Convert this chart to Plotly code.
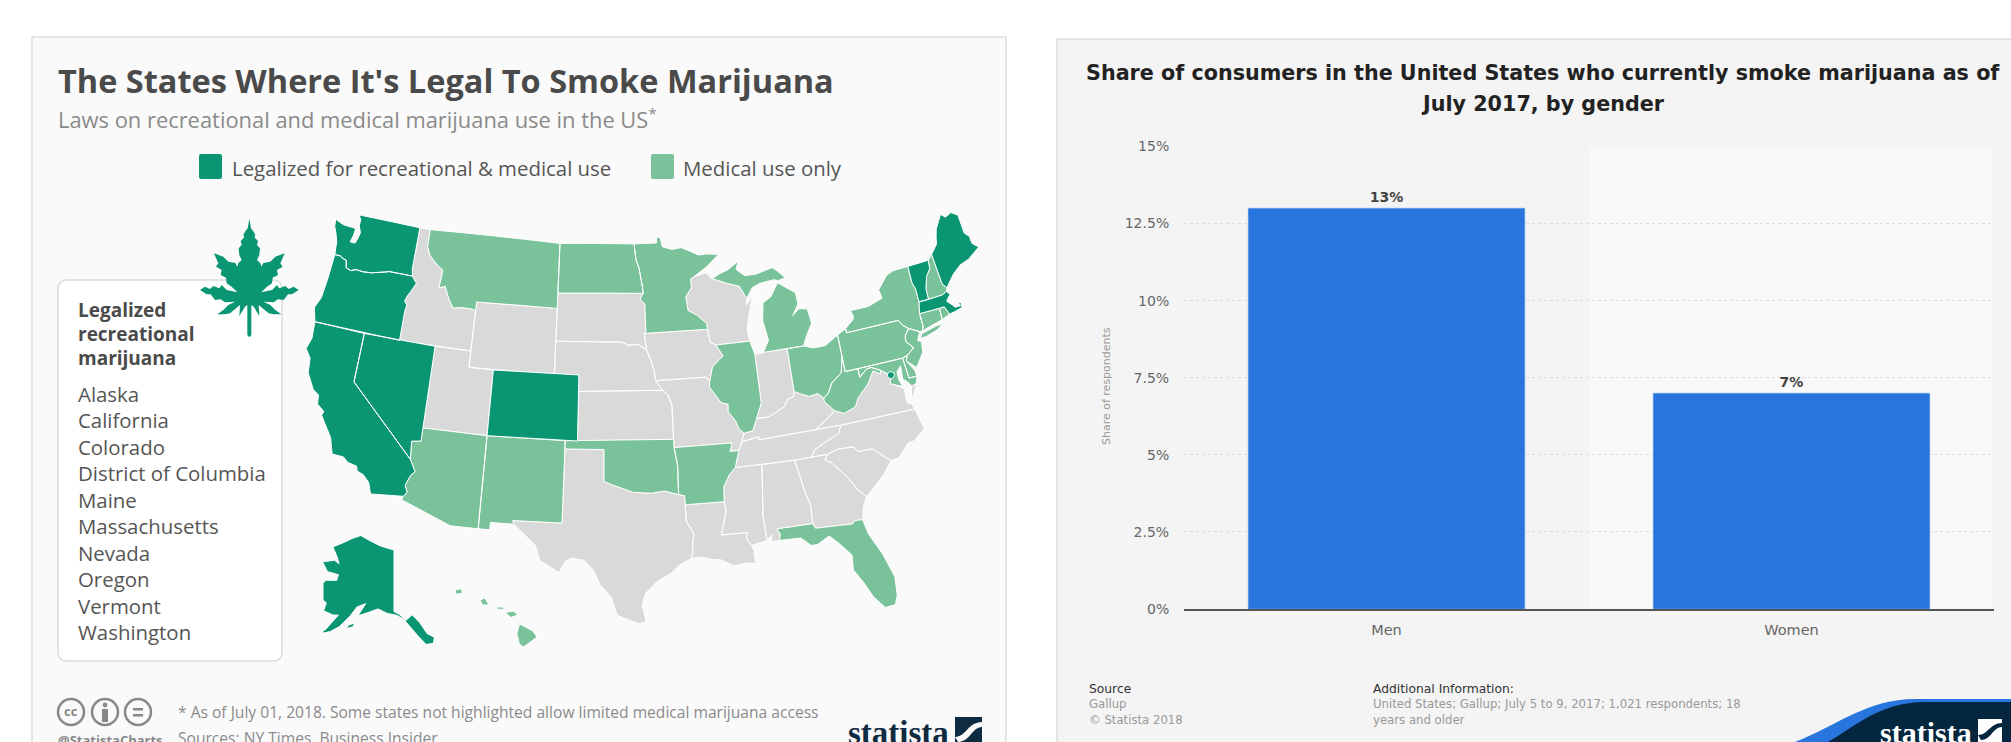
import plotly.graph_objects as go

PAGE_W, PAGE_H = 2011, 742

# State outlines as (longitude, latitude) vertices
WA = [(-124.73, 48.38), (-123.9, 48.17), (-123.1, 48.15), (-122.75, 48.12), (-122.8, 47.7), (-122.95, 47.25),
      (-122.5, 47.25), (-122.35, 47.6), (-122.25, 47.95), (-122.5, 48.35), (-122.5, 48.75), (-122.76, 49.0),
      (-117.03, 49.0), (-117.04, 46.42), (-116.92, 45.995), (-118.98, 46.0), (-119.3, 45.93), (-120.5, 45.7),
      (-121.2, 45.65), (-121.9, 45.68), (-122.3, 45.55), (-122.75, 45.65), (-122.9, 46.1), (-123.2, 46.15),
      (-123.5, 46.27), (-124.0, 46.27), (-124.07, 46.7), (-124.1, 47.0), (-124.35, 47.5), (-124.65, 47.95)]
OR = [(-124.0, 46.27), (-123.5, 46.27), (-123.2, 46.15), (-122.9, 46.1), (-122.75, 45.65), (-122.3, 45.55),
      (-121.9, 45.68), (-121.2, 45.65), (-120.5, 45.7), (-119.3, 45.93), (-118.98, 46.0), (-116.92, 45.995),
      (-116.47, 45.6), (-116.85, 45.0), (-117.05, 44.75), (-117.2, 44.4), (-116.95, 44.2), (-117.03, 43.8),
      (-117.03, 42.0), (-124.21, 42.0), (-124.55, 42.84), (-124.2, 43.5), (-124.07, 44.7)]
CA = [(-124.21, 42.0), (-120.0, 42.0), (-120.0, 39.0), (-114.63, 35.0), (-114.14, 34.3), (-114.43, 34.05),
      (-114.72, 33.4), (-114.5, 33.0), (-114.72, 32.72), (-117.12, 32.53), (-117.25, 32.85), (-117.4, 33.2),
      (-117.9, 33.6), (-118.4, 33.75), (-118.5, 34.03), (-119.2, 34.15), (-119.6, 34.42), (-120.47, 34.45),
      (-120.65, 34.9), (-120.85, 35.4), (-121.9, 36.6), (-121.8, 36.85), (-122.4, 37.2), (-122.5, 37.75),
      (-123.0, 38.0), (-123.7, 38.9), (-123.85, 39.8), (-124.35, 40.3), (-124.1, 41.0)]
NV = [(-120.0, 42.0), (-114.04, 42.0), (-114.04, 36.2), (-114.75, 36.1), (-114.63, 35.0), (-120.0, 39.0)]
ID = [(-117.03, 49.0), (-116.05, 49.0), (-116.05, 47.97), (-115.72, 47.45), (-114.95, 46.93), (-114.35, 46.65),
      (-114.45, 45.55), (-113.95, 45.7), (-113.45, 44.95), (-113.0, 44.45), (-112.3, 44.55), (-111.5, 44.55),
      (-111.05, 44.48), (-111.05, 42.0), (-117.03, 42.0), (-117.03, 43.8), (-116.95, 44.2), (-117.2, 44.4),
      (-117.05, 44.75), (-116.85, 45.0), (-116.47, 45.6), (-116.92, 45.995), (-117.04, 46.42)]
MT = [(-116.05, 49.0), (-104.05, 49.0), (-104.05, 45.0), (-111.05, 45.0), (-111.05, 44.48), (-111.5, 44.55),
      (-112.3, 44.55), (-113.0, 44.45), (-113.45, 44.95), (-113.95, 45.7), (-114.45, 45.55), (-114.35, 46.65),
      (-114.95, 46.93), (-115.72, 47.45), (-116.05, 47.97)]
WY = [(-111.05, 45.0), (-104.05, 45.0), (-104.05, 41.0), (-111.05, 41.0)]
UT = [(-114.04, 42.0), (-111.05, 42.0), (-111.05, 41.0), (-109.05, 41.0), (-109.05, 37.0), (-114.05, 37.0)]
CO = [(-109.05, 41.0), (-102.05, 41.0), (-102.05, 37.0), (-109.05, 37.0)]
AZ = [(-114.05, 37.0), (-109.05, 37.0), (-109.05, 31.33), (-111.07, 31.33), (-114.81, 32.5), (-114.72, 32.72),
      (-114.5, 33.0), (-114.72, 33.4), (-114.43, 34.05), (-114.14, 34.3), (-114.63, 35.0), (-114.75, 36.1),
      (-114.04, 36.2)]
NM = [(-109.05, 37.0), (-103.0, 37.0), (-103.04, 32.0), (-106.62, 32.0), (-106.53, 31.78), (-108.21, 31.78),
      (-108.21, 31.33), (-109.05, 31.33)]
TX = [(-103.0, 36.5), (-100.0, 36.5), (-100.0, 34.56), (-99.5, 34.4), (-99.2, 34.3), (-98.5, 34.1), (-97.9, 33.9),
      (-97.2, 33.85), (-96.5, 33.8), (-95.5, 33.9), (-94.48, 33.64), (-94.04, 33.55), (-94.04, 33.0), (-94.04, 31.99),
      (-93.55, 31.2), (-93.7, 30.5), (-93.7, 30.1), (-93.85, 29.7), (-94.7, 29.35), (-95.3, 28.9), (-96.4, 28.35),
      (-97.15, 27.7), (-97.4, 27.0), (-97.15, 25.97), (-97.6, 25.85), (-98.2, 26.05), (-99.1, 26.4), (-99.5, 27.5),
      (-100.3, 28.3), (-100.7, 29.1), (-101.4, 29.77), (-102.3, 29.88), (-102.7, 29.7), (-103.15, 28.98),
      (-104.5, 29.65), (-104.9, 30.6), (-106.53, 31.78), (-106.62, 32.0), (-103.04, 32.0)]
OK = [(-103.0, 37.0), (-94.62, 37.0), (-94.62, 36.5), (-94.43, 35.4), (-94.48, 33.64), (-95.5, 33.9), (-96.5, 33.8),
      (-97.2, 33.85), (-97.9, 33.9), (-98.5, 34.1), (-99.2, 34.3), (-99.5, 34.4), (-100.0, 34.56), (-100.0, 36.5),
      (-103.0, 36.5)]
KS = [(-102.05, 40.0), (-95.3, 40.0), (-94.9, 39.75), (-94.6, 39.1), (-94.62, 37.0), (-102.05, 37.0)]
NE = [(-104.05, 43.0), (-98.5, 43.0), (-97.9, 42.8), (-97.2, 42.85), (-96.45, 42.49), (-96.1, 41.8), (-95.9, 41.2),
      (-95.8, 40.6), (-95.3, 40.0), (-102.05, 40.0), (-102.05, 41.0), (-104.05, 41.0)]
SD = [(-104.05, 45.94), (-96.56, 45.94), (-96.85, 45.6), (-96.45, 45.3), (-96.45, 43.5), (-96.6, 43.5), (-96.45, 42.49),
      (-97.2, 42.85), (-97.9, 42.8), (-98.5, 43.0), (-104.05, 43.0)]
ND = [(-104.05, 49.0), (-97.23, 49.0), (-97.1, 48.0), (-96.85, 47.5), (-96.6, 46.3), (-96.56, 45.94), (-104.05, 45.94)]
MN = [(-97.23, 49.0), (-95.15, 49.0), (-95.15, 49.38), (-94.8, 49.3), (-94.65, 48.75), (-93.8, 48.55), (-92.95, 48.62),
      (-92.0, 48.3), (-91.4, 48.07), (-90.75, 48.1), (-89.6, 48.0), (-90.8, 47.3), (-92.05, 46.75), (-92.3, 46.65),
      (-92.3, 46.1), (-92.85, 45.6), (-92.75, 44.75), (-92.0, 44.4), (-91.25, 43.85), (-91.22, 43.5), (-96.45, 43.5),
      (-96.45, 45.3), (-96.85, 45.6), (-96.56, 45.94), (-96.6, 46.3), (-96.85, 47.5), (-97.1, 48.0)]
IA = [(-96.6, 43.5), (-91.22, 43.5), (-91.1, 42.7), (-90.65, 42.5), (-90.15, 41.8), (-91.1, 41.2), (-91.42, 40.38),
      (-91.73, 40.61), (-95.8, 40.6), (-95.9, 41.2), (-96.1, 41.8), (-96.45, 42.49)]
MO = [(-95.8, 40.6), (-91.73, 40.61), (-91.42, 40.38), (-91.5, 40.0), (-90.7, 39.0), (-90.15, 38.85), (-90.2, 38.4),
      (-89.7, 37.8), (-89.5, 37.3), (-89.15, 37.0), (-89.4, 36.5), (-89.7, 36.0), (-90.37, 36.0), (-90.15, 36.5),
      (-94.62, 36.5), (-94.62, 37.0), (-94.6, 39.1), (-94.9, 39.75), (-95.3, 40.0)]
AR = [(-94.62, 36.5), (-90.15, 36.5), (-90.37, 36.0), (-89.7, 36.0), (-90.1, 35.0), (-90.6, 34.6), (-91.1, 33.9),
      (-91.17, 33.0), (-94.04, 33.0), (-94.04, 33.55), (-94.48, 33.64), (-94.43, 35.4)]
LA = [(-94.04, 33.0), (-91.17, 33.0), (-91.1, 32.4), (-91.6, 31.0), (-89.73, 31.0), (-89.85, 30.65), (-89.55, 30.18),
      (-89.4, 29.9), (-89.4, 29.2), (-89.2, 29.05), (-90.1, 29.15), (-90.9, 29.05), (-91.8, 29.5), (-92.3, 29.55),
      (-93.2, 29.77), (-93.85, 29.7), (-93.7, 30.1), (-93.7, 30.5), (-93.55, 31.2), (-94.04, 31.99)]
MS = [(-90.1, 35.0), (-88.2, 35.0), (-88.1, 34.9), (-88.47, 31.9), (-88.4, 30.37), (-89.55, 30.18), (-89.85, 30.65),
      (-89.73, 31.0), (-91.6, 31.0), (-91.1, 32.4), (-91.17, 33.0), (-91.1, 33.9), (-90.6, 34.6)]
AL = [(-88.2, 35.0), (-85.6, 34.98), (-85.18, 32.87), (-84.96, 32.2), (-85.0, 31.0), (-87.6, 31.0), (-87.4, 30.67),
      (-87.52, 30.28), (-88.1, 30.25), (-88.0, 30.7), (-88.4, 30.37), (-88.47, 31.9), (-88.1, 34.9)]
GA = [(-85.6, 34.98), (-83.1, 35.0), (-83.35, 34.7), (-82.9, 34.45), (-82.0, 33.5), (-81.4, 32.6), (-80.85, 32.03),
      (-81.2, 31.5), (-81.45, 30.7), (-82.0, 30.75), (-82.2, 30.57), (-84.86, 30.7), (-85.0, 31.0), (-84.96, 32.2),
      (-85.18, 32.87)]
FL = [(-87.6, 31.0), (-85.0, 31.0), (-84.86, 30.7), (-82.2, 30.57), (-82.0, 30.75), (-81.45, 30.7), (-81.25, 29.8),
      (-80.55, 28.4), (-80.05, 26.9), (-80.15, 25.75), (-80.4, 25.2), (-81.1, 25.15), (-81.75, 25.95), (-82.2, 26.9),
      (-82.75, 27.8), (-82.65, 28.7), (-83.4, 29.55), (-84.0, 30.1), (-84.9, 29.7), (-85.35, 29.7), (-86.0, 30.25),
      (-87.52, 30.28), (-87.4, 30.67)]
SC = [(-83.1, 35.0), (-82.3, 35.2), (-81.05, 35.15), (-80.8, 34.82), (-79.7, 34.8), (-78.55, 33.86), (-79.2, 33.2),
      (-79.9, 32.7), (-80.85, 32.03), (-81.4, 32.6), (-82.0, 33.5), (-82.9, 34.45), (-83.35, 34.7)]
NC = [(-84.32, 35.0), (-83.1, 35.0), (-82.3, 35.2), (-81.05, 35.15), (-80.8, 34.82), (-79.7, 34.8), (-78.55, 33.86),
      (-77.9, 33.93), (-77.0, 34.65), (-76.5, 34.7), (-75.55, 35.25), (-75.87, 36.55), (-81.68, 36.59), (-82.0, 36.1),
      (-83.1, 35.75), (-84.0, 35.4)]
TN = [(-90.1, 35.0), (-88.2, 35.0), (-85.6, 34.98), (-84.32, 35.0), (-84.0, 35.4), (-83.1, 35.75), (-82.0, 36.1),
      (-81.68, 36.59), (-83.68, 36.6), (-88.07, 36.5), (-88.07, 36.68), (-89.4, 36.5), (-89.7, 36.0)]
KY = [(-89.4, 36.5), (-88.07, 36.68), (-88.07, 36.5), (-83.68, 36.6), (-82.3, 37.3), (-81.97, 37.54), (-82.6, 38.17),
      (-82.6, 38.4), (-83.0, 38.73), (-83.7, 38.65), (-84.25, 38.85), (-84.82, 39.1), (-84.9, 38.8), (-85.4, 38.7),
      (-85.8, 38.27), (-86.5, 38.0), (-87.1, 37.8), (-88.05, 37.8), (-88.45, 37.1), (-89.15, 37.0)]
WV = [(-82.6, 38.4), (-82.6, 38.17), (-81.97, 37.54), (-81.25, 37.25), (-80.3, 37.5), (-79.95, 38.0), (-79.3, 38.45),
      (-78.87, 38.77), (-78.35, 39.4), (-77.83, 39.13), (-77.72, 39.32), (-78.4, 39.62), (-78.8, 39.6), (-79.48, 39.2),
      (-79.48, 39.72), (-80.52, 39.72), (-80.52, 40.64), (-80.85, 39.7), (-81.75, 39.2), (-82.2, 38.6)]
VA = [(-83.68, 36.6), (-81.68, 36.59), (-75.87, 36.55), (-76.0, 36.9), (-76.3, 37.0), (-76.3, 37.55), (-76.25, 37.9),
      (-76.95, 38.3), (-77.25, 38.4), (-77.04, 38.79), (-77.12, 38.93), (-77.72, 39.32), (-77.83, 39.13), (-78.35, 39.4),
      (-78.87, 38.77), (-79.3, 38.45), (-79.95, 38.0), (-80.3, 37.5), (-81.25, 37.25), (-81.97, 37.54), (-82.3, 37.3)]
VA_SHORE = [(-75.95, 37.15), (-75.65, 37.95), (-75.25, 38.03), (-75.6, 37.5)]
MD = [(-79.48, 39.72), (-75.79, 39.72), (-75.7, 38.46), (-75.05, 38.45), (-75.25, 38.03), (-75.65, 37.95), (-75.85, 38.2),
      (-76.2, 38.5), (-76.1, 39.3), (-76.5, 39.0), (-76.5, 38.5), (-76.35, 38.05), (-76.95, 38.3), (-77.25, 38.4),
      (-77.04, 38.79), (-77.12, 38.93), (-77.72, 39.32), (-78.4, 39.62), (-78.8, 39.6), (-79.48, 39.2)]
DE = [(-75.79, 39.72), (-75.4, 39.8), (-75.55, 39.5), (-75.1, 38.8), (-75.05, 38.45), (-75.7, 38.46)]
PA = [(-80.52, 41.98), (-79.76, 42.27), (-79.76, 42.0), (-75.35, 42.0), (-75.05, 41.6), (-74.7, 41.36), (-75.13, 40.98),
      (-75.2, 40.65), (-74.72, 40.15), (-75.4, 39.8), (-75.79, 39.72), (-80.52, 39.72)]
NJ = [(-74.7, 41.36), (-73.9, 41.0), (-74.25, 40.5), (-73.97, 40.4), (-74.1, 39.75), (-74.9, 38.95), (-75.55, 39.5),
      (-75.4, 39.8), (-74.72, 40.15), (-75.2, 40.65), (-75.13, 40.98)]
NY = [(-79.76, 42.27), (-79.0, 42.7), (-78.9, 42.9), (-79.05, 43.27), (-77.5, 43.27), (-76.2, 43.55), (-76.3, 44.1),
      (-75.3, 44.85), (-74.7, 45.0), (-73.35, 45.01), (-73.4, 44.0), (-73.25, 43.55), (-73.27, 42.75), (-73.5, 42.05),
      (-73.5, 41.3), (-73.65, 41.0), (-73.9, 41.0), (-74.7, 41.36), (-75.05, 41.6), (-75.35, 42.0), (-79.76, 42.0)]
NY_LONG_ISLAND = [(-74.0, 40.6), (-73.75, 40.85), (-72.5, 41.05), (-71.9, 41.07), (-72.5, 40.8), (-73.5, 40.6)]
VT = [(-73.35, 45.01), (-71.5, 45.01), (-71.6, 44.5), (-72.05, 44.1), (-72.4, 43.4), (-72.46, 42.73), (-73.27, 42.75),
      (-73.25, 43.55), (-73.4, 44.0)]
NH = [(-71.5, 45.01), (-71.08, 45.3), (-70.98, 43.4), (-70.7, 43.07), (-70.82, 42.87), (-71.25, 42.74), (-72.46, 42.73),
      (-72.4, 43.4), (-72.05, 44.1), (-71.6, 44.5)]
ME = [(-71.08, 45.3), (-70.4, 45.8), (-70.25, 46.2), (-70.0, 46.7), (-69.23, 47.46), (-68.9, 47.2), (-68.3, 47.36),
      (-67.79, 47.07), (-67.78, 45.9), (-67.45, 45.6), (-67.45, 45.15), (-67.0, 44.8), (-68.2, 44.3), (-69.0, 44.15),
      (-69.8, 43.75), (-70.7, 43.07), (-70.98, 43.4)]
MA = [(-73.5, 42.05), (-73.27, 42.75), (-72.46, 42.73), (-71.25, 42.74), (-70.82, 42.87), (-70.6, 42.65), (-71.05, 42.3),
      (-70.65, 41.95), (-70.55, 41.8), (-70.05, 41.78), (-70.2, 42.07), (-69.95, 41.95), (-69.98, 41.65), (-70.65, 41.55),
      (-71.12, 41.5), (-71.38, 42.02), (-71.8, 42.02)]
RI = [(-71.8, 42.02), (-71.38, 42.02), (-71.12, 41.5), (-71.85, 41.32)]
CT = [(-73.5, 42.05), (-71.8, 42.02), (-71.85, 41.32), (-73.65, 41.0), (-73.5, 41.3)]
OH = [(-84.82, 41.72), (-83.45, 41.72), (-82.7, 41.5), (-81.7, 41.5), (-80.52, 41.98), (-80.52, 40.64), (-80.85, 39.7),
      (-81.75, 39.2), (-82.2, 38.6), (-82.6, 38.4), (-83.0, 38.73), (-83.7, 38.65), (-84.25, 38.85), (-84.82, 39.1)]
IN = [(-87.53, 41.7), (-87.1, 41.65), (-86.8, 41.72), (-84.82, 41.72), (-84.82, 39.1), (-84.9, 38.8), (-85.4, 38.7),
      (-85.8, 38.27), (-86.5, 38.0), (-87.1, 37.8), (-88.05, 37.8), (-87.53, 38.7), (-87.53, 39.35)]
IL = [(-90.65, 42.5), (-87.8, 42.5), (-87.53, 41.7), (-87.53, 39.35), (-87.53, 38.7), (-88.05, 37.8), (-88.45, 37.1),
      (-89.15, 37.0), (-89.5, 37.3), (-89.7, 37.8), (-90.2, 38.4), (-90.15, 38.85), (-90.7, 39.0), (-91.5, 40.0),
      (-91.42, 40.38), (-91.1, 41.2), (-90.15, 41.8)]
WI = [(-90.65, 42.5), (-87.8, 42.5), (-87.9, 43.2), (-87.55, 44.2), (-87.05, 45.25), (-87.7, 44.7), (-87.6, 45.1),
      (-88.1, 45.9), (-89.1, 46.15), (-90.4, 46.55), (-90.9, 46.95), (-92.05, 46.75), (-92.3, 46.65), (-92.3, 46.1),
      (-92.85, 45.6), (-92.75, 44.75), (-92.0, 44.4), (-91.25, 43.85), (-91.22, 43.5), (-91.1, 42.7)]
MI_LOWER = [(-86.8, 41.72), (-83.45, 41.72), (-83.1, 42.25), (-82.45, 43.0), (-82.6, 43.9), (-83.3, 44.0), (-83.9, 43.65),
            (-83.3, 44.3), (-83.35, 45.0), (-84.75, 45.78), (-85.5, 45.0), (-86.25, 44.7), (-86.5, 43.65), (-86.25, 42.4)]
MI_UPPER = [(-90.4, 46.55), (-89.1, 46.15), (-88.1, 45.9), (-87.6, 45.1), (-87.0, 45.7), (-86.3, 45.9), (-85.0, 46.0),
            (-84.7, 45.9), (-84.0, 46.0), (-84.6, 46.5), (-85.0, 46.75), (-86.5, 46.5), (-87.5, 46.5), (-88.2, 46.95),
            (-87.9, 47.45), (-88.9, 47.0), (-89.7, 46.8)]
AK = [(-141.0, 69.65), (-141.0, 60.3), (-139.5, 59.9), (-137.5, 58.9), (-135.5, 59.7), (-133.5, 58.4), (-131.8, 56.6),
      (-130.0, 55.9), (-130.5, 55.0), (-132.5, 55.0), (-134.5, 56.5), (-136.5, 58.0), (-138.0, 59.0), (-140.0, 59.7),
      (-143.0, 60.0), (-146.0, 60.6), (-148.5, 60.0), (-151.8, 59.2), (-150.0, 61.2), (-152.5, 60.5), (-154.0, 59.0),
      (-156.5, 57.0), (-158.5, 56.0), (-161.0, 55.2), (-164.5, 54.6), (-162.5, 55.5), (-160.0, 56.0), (-157.5, 58.7),
      (-159.0, 58.5), (-162.0, 58.7), (-162.0, 60.0), (-165.3, 60.5), (-166.0, 61.6), (-165.0, 62.6), (-164.5, 63.2),
      (-161.0, 63.7), (-161.0, 64.6), (-165.0, 64.5), (-168.0, 65.6), (-164.0, 66.5), (-162.0, 66.2), (-163.5, 67.1),
      (-166.5, 68.3), (-163.0, 69.5), (-160.0, 70.5), (-156.5, 71.3), (-152.0, 70.8), (-147.0, 70.2)]
AK_KODIAK = [(-154.3, 57.0), (-152.5, 57.5), (-152.5, 58.0), (-154.0, 57.6)]
HI_BIG = [(-155.9, 20.25), (-155.1, 19.85), (-154.85, 19.5), (-155.65, 18.95), (-155.9, 19.1), (-156.05, 19.7)]
HI_MAUI = [(-156.7, 20.9), (-156.25, 20.95), (-156.0, 20.75), (-156.4, 20.6), (-156.65, 20.8)]
HI_MOLOKAI = [(-157.25, 21.2), (-156.75, 21.17), (-156.9, 21.05), (-157.25, 21.08)]
HI_OAHU = [(-158.25, 21.55), (-158.0, 21.7), (-157.7, 21.3), (-158.1, 21.3)]
HI_KAUAI = [(-159.75, 22.15), (-159.35, 22.2), (-159.3, 21.95), (-159.7, 21.9)]

recreational_outlines = [CA, CO, ME, MA, NV, OR, VT, WA]
medical_outlines = [AZ, AR, CT, DE, FL, IL, MD, MI_LOWER, MI_UPPER, MN, MT, NH, NJ, NM, NY, NY_LONG_ISLAND, ND, OH, OK,
                    PA, RI, WV]
no_law_outlines = [AL, GA, ID, IN, IA, KS, KY, LA, MS, MO, NE, NC, SC, SD, TN, TX, UT, VA, VA_SHORE, WI, WY]
alaska_outlines = [AK, AK_KODIAK]
hawaii_outlines = [HI_BIG, HI_MAUI, HI_MOLOKAI, HI_OAHU, HI_KAUAI]
dc_lon, dc_lat = [-77.03], [38.9]

recreational_names = ["Alaska", "California", "Colorado", "District of Columbia", "Maine",
                      "Massachusetts", "Nevada", "Oregon", "Vermont", "Washington"]

# Bar chart data
genders = ["Men", "Women"]
smoker_share = [13, 7]
share_ticks = [0, 2.5, 5, 7.5, 10, 12.5, 15]
share_tick_labels = ["0%", "2.5%", "5%", "7.5%", "10%", "12.5%", "15%"]

GREEN_DARK = "#0a9673"
GREEN_LIGHT = "#7ac29a"
GREY_STATE = "#d9d9d9"
NAVY = "#0f2b42"
BADGE = "#04263f"
BLUE = "#2875de"
SANS = "Open Sans"
DEJAVU = "DejaVu Sans"


def px(x):
    return x / PAGE_W


def py(y):
    return 1 - y / PAGE_H


def pts_path(points):
    return "M " + " L ".join(f"{px(x):.5f} {py(y):.5f}" for x, y in points) + " Z"


def rect(x0, y0, x1, y1, fill, line=None, width=0, layer="below"):
    return dict(type="rect", xref="paper", yref="paper", x0=px(x0), x1=px(x1), y0=py(y0), y1=py(y1),
                fillcolor=fill, line=dict(color=line or "rgba(0,0,0,0)", width=width), layer=layer)


def path_shape(path, fill="rgba(0,0,0,0)", line=None, width=0, layer="above"):
    return dict(type="path", xref="paper", yref="paper", path=path, fillcolor=fill,
                line=dict(color=line or "rgba(0,0,0,0)", width=width), layer=layer)


def circle(cx, cy, r, fill="rgba(0,0,0,0)", line=None, width=0):
    return dict(type="circle", xref="paper", yref="paper", x0=px(cx - r), x1=px(cx + r),
                y0=py(cy + r), y1=py(cy - r), fillcolor=fill,
                line=dict(color=line or "rgba(0,0,0,0)", width=width), layer="above")


def label(x, y, text, size, color, family=SANS, anchor="left", **kw):
    # Annotations carry a small inner pad; compensate so `x` is the glyph edge.
    nudge = -2.5 if anchor == "left" else 0
    return dict(xref="paper", yref="paper", x=px(x + nudge), y=py(y), text=text, showarrow=False,
                xanchor=anchor, yanchor="middle", align=anchor,
                font=dict(size=size, color=color, family=family), **kw)


def rounded_box(x0, y0, x1, y1, r):
    return (f"M {px(x0 + r):.5f} {py(y0):.5f} L {px(x1 - r):.5f} {py(y0):.5f} "
            f"Q {px(x1):.5f} {py(y0):.5f} {px(x1):.5f} {py(y0 + r):.5f} "
            f"L {px(x1):.5f} {py(y1 - r):.5f} Q {px(x1):.5f} {py(y1):.5f} {px(x1 - r):.5f} {py(y1):.5f} "
            f"L {px(x0 + r):.5f} {py(y1):.5f} Q {px(x0):.5f} {py(y1):.5f} {px(x0):.5f} {py(y1 - r):.5f} "
            f"L {px(x0):.5f} {py(y0 + r):.5f} Q {px(x0):.5f} {py(y0):.5f} {px(x0 + r):.5f} {py(y0):.5f} Z")


def ring_lonlat(rings):
    """Join rings into one lon/lat series, each wound clockwise so the globe reads it as a small area."""
    lon, lat = [], []
    for ring in rings:
        area = sum(a[0] * b[1] - b[0] * a[1] for a, b in zip(ring, ring[1:] + ring[:1]))
        ordered = ring if area < 0 else ring[::-1]
        closed = ordered + ordered[:1]
        lon += [p[0] for p in closed] + [None]
        lat += [p[1] for p in closed] + [None]
    return lon, lat


def map_subplot(box, projection, lon_range, lat_range):
    x0, y0, x1, y1 = box
    return dict(
        domain=dict(x=[px(x0), px(x1)], y=[py(y1), py(y0)]), projection=projection,
        lonaxis=dict(range=lon_range), lataxis=dict(range=lat_range),
        bgcolor="rgba(0,0,0,0)", showland=False, showlakes=False, showcoastlines=False,
        showframe=False, showsubunits=False, showcountries=False, showocean=False, showrivers=False,
    )


# Outline of the left half of the leaf icon, mirrored about its stem
leaf_half = [(178, 42), (173, 70), (165, 80), (160, 90), (163, 97), (152, 108), (155, 120), (146, 130),
             (148, 150), (155, 165), (145, 175), (142, 185), (136, 174), (115, 170), (100, 155),
             (72, 145), (85, 175), (78, 185), (95, 195), (92, 210), (108, 218), (110, 235),
             (125, 245), (142, 262), (110, 255), (95, 240), (88, 250), (70, 243),
             (60, 252), (45, 245), (30, 255), (50, 268), (62, 268), (75, 285), (92, 283),
             (105, 292), (135, 290), (115, 300), (100, 315), (82, 328), (105, 328), (120, 325),
             (140, 308), (150, 300), (148, 333), (165, 305), (172, 300), (172, 390), (178, 397)]
leaf_right = [(356 - x, y) for x, y in reversed(leaf_half[1:-1])]
leaf_outline = [(190 + x / 3, 205 + y / 3) for x, y in leaf_half + leaf_right]

shapes = [
    # Panels
    rect(32, 37, 1006, 800, "#fafafa", "#cfcfcf", 1),
    rect(1057, 39, 2060, 800, "#f4f4f4", "#cfcfcf", 1),
    # Alternating column band of the bar chart
    dict(type="rect", xref="x domain", yref="y domain", x0=0.5, x1=0.9985, y0=0, y1=1,
         fillcolor="#f9f9f9", line=dict(width=0), layer="below"),
    # List box
    path_shape(rounded_box(58, 280, 282, 661, 9), "#ffffff", "#dcdcdc", 1.5, "below"),
    # Legend swatches
    path_shape(rounded_box(199, 154, 222, 179, 2), GREEN_DARK, layer="below"),
    path_shape(rounded_box(651, 154, 674, 179, 2), GREEN_LIGHT, layer="below"),
    # Leaf icon
    path_shape(pts_path(leaf_outline), GREEN_DARK),
    # Licence icons
    circle(71, 712, 13, line="#888888", width=2.5),
    circle(105, 712, 13, line="#888888", width=2.5),
    circle(138, 712, 13, line="#888888", width=2.5),
    circle(105, 705, 2.4, fill="#888888"),
    rect(102, 709, 108, 722, "#888888", layer="above"),
    rect(133, 708, 143, 710.5, "#888888", layer="above"),
    rect(133, 714, 143, 716.5, "#888888", layer="above"),
    # Wordmark square on the map panel
    rect(955, 717, 982, 745, NAVY, layer="above"),
    path_shape(f"M {px(955)} {py(737)} C {px(966)} {py(737)} {px(968)} {py(722)} {px(982)} {py(722)} "
               f"L {px(982)} {py(727)} C {px(972)} {py(727)} {px(970)} {py(742)} {px(958)} {py(742)} Z",
               "#fafafa"),
    # Corner badge of the bar chart panel
    path_shape(f"M {px(1787)} {py(745)} C {px(1835)} {py(728)} {px(1865)} {py(699)} {px(1915)} {py(699)} "
               f"L {px(2015)} {py(699)} L {px(2015)} {py(745)} Z", BLUE, layer="above"),
    path_shape(f"M {px(1822)} {py(745)} C {px(1850)} {py(732)} {px(1875)} {py(702)} {px(1925)} {py(702)} "
               f"L {px(2015)} {py(702)} L {px(2015)} {py(745)} Z", BADGE, layer="above"),
    rect(1978, 719, 2002, 745, "#ffffff", layer="above"),
    path_shape(f"M {px(1978)} {py(735)} C {px(1988)} {py(735)} {px(1990)} {py(723)} {px(2002)} {py(723)} "
               f"L {px(2002)} {py(727)} C {px(1993)} {py(727)} {px(1991)} {py(740)} {px(1981)} {py(740)} Z",
               BADGE),
]

annotations = [
    label(58, 81, "<b>The States Where It's Legal To Smoke Marijuana</b>", 32.5, "#4a4a4a"),
    label(58, 118, "Laws on recreational and medical marijuana use in the US<sup>*</sup>", 21.9, "#8a8a8a"),
    label(232, 168, "Legalized for recreational &amp; medical use", 20.4, "#555555"),
    label(683, 168, "Medical use only", 20.4, "#555555"),
    label(78, 310, "<b>Legalized</b>", 19, "#4a4a4a"),
    label(78, 334, "<b>recreational</b>", 19, "#4a4a4a"),
    label(78, 358, "<b>marijuana</b>", 19, "#4a4a4a"),
    label(71, 711, "<b>cc</b>", 13, "#888888", anchor="center"),
    label(58, 740, "<b>@StatistaCharts</b>", 13, "#888888"),
    label(178, 712, "* As of July 01, 2018. Some states not highlighted allow limited medical marijuana access",
          15.6, "#8a8a8a"),
    label(178, 738, "Sources: NY Times, Business Insider", 15.6, "#8a8a8a"),
    label(848, 733, "<b>statista</b>", 33, NAVY, family="Liberation Sans Narrow"),
    label(1543, 73, "<b>Share of consumers in the United States who currently smoke marijuana as of</b>",
          20.7, "#222222", family=DEJAVU, anchor="center"),
    label(1543, 104, "<b>July 2017, by gender</b>", 20.7, "#222222", family=DEJAVU, anchor="center"),
    label(1089, 689, "Source", 12.3, "#333333", family=DEJAVU),
    label(1089, 704, "Gallup", 11.7, "#999999", family=DEJAVU),
    label(1089, 720, "© Statista 2018", 11.7, "#999999", family=DEJAVU),
    label(1373, 689, "Additional Information:", 12.3, "#333333", family=DEJAVU),
    label(1373, 704, "United States; Gallup; July 5 to 9, 2017; 1,021 respondents; 18", 11.7, "#999999", family=DEJAVU),
    label(1373, 720, "years and older", 11.7, "#999999", family=DEJAVU),
    label(1880, 732, "<b>statista</b>", 30, "#ffffff", family="Liberation Sans Narrow"),
    label(1106, 386, "Share of respondents", 11, "#999999", family=DEJAVU, anchor="center", textangle=-90),
]
for row, name in enumerate(recreational_names):
    annotations.append(label(78, 393.5 + row * 26.55, name, 20.4, "#555555"))

fig = go.Figure()

for outlines, colour, subplot in [(no_law_outlines, GREY_STATE, "geo"), (medical_outlines, GREEN_LIGHT, "geo"),
                                  (recreational_outlines, GREEN_DARK, "geo"), (alaska_outlines, GREEN_DARK, "geo2"),
                                  (hawaii_outlines, GREEN_LIGHT, "geo3")]:
    lon, lat = ring_lonlat(outlines)
    fig.add_trace(go.Scattergeo(lon=lon, lat=lat, mode="lines", fill="toself", fillcolor=colour,
                                line=dict(color="#ffffff", width=1), geo=subplot, hoverinfo="skip"))

fig.add_trace(go.Scattergeo(lon=dc_lon, lat=dc_lat, mode="markers", geo="geo", hoverinfo="skip",
                            marker=dict(size=7, color=GREEN_DARK, line=dict(color="#ffffff", width=1))))

fig.add_trace(go.Bar(
    x=genders, y=smoker_share, width=0.683, marker=dict(color=BLUE, line=dict(color="#6aa2ec", width=0.5)),
    text=[f"<b>{v}%</b>" for v in smoker_share], textposition="outside", cliponaxis=False,
    textfont=dict(size=14, color="#444444", family=DEJAVU),
))

fig.update_layout(
    width=PAGE_W, height=PAGE_H, autosize=False, margin=dict(l=0, r=0, t=0, b=0, autoexpand=False),
    paper_bgcolor="#ffffff", plot_bgcolor="rgba(0,0,0,0)", showlegend=False,
    shapes=shapes, annotations=annotations,
    geo=map_subplot((178, 135, 1030, 741),
                    dict(type="albers", rotation=dict(lon=-100), parallels=[29.5, 45.5]),
                    [-124.7, -67], [25, 49.4]),
    geo2=map_subplot((323, 528, 465, 660),
                     dict(type="albers", rotation=dict(lon=-141), parallels=[55, 65]),
                     [-168, -130], [54.6, 71.3]),
    geo3=map_subplot((455, 588, 537, 648),
                     dict(type="mercator"),
                     [-159.75, -154.85], [18.95, 22.2]),
    xaxis=dict(
        domain=[px(1184), px(1994)], type="category", showgrid=False, zeroline=False,
        ticks="outside", ticklen=7, tickcolor="rgba(0,0,0,0)", showline=True, linecolor="#555555", linewidth=2,
        tickfont=dict(size=14.5, color="#666666", family=DEJAVU),
    ),
    yaxis=dict(
        domain=[py(609), py(146.5)], range=[0, 15], tickvals=share_ticks, ticktext=share_tick_labels,
        showgrid=True, gridcolor="#dddddd", griddash="dot", gridwidth=1, zeroline=False,
        ticks="outside", ticklen=11, tickcolor="rgba(0,0,0,0)",
        tickfont=dict(size=14, color="#666666", family=DEJAVU),
    ),
)

fig.write_html("out.html")
